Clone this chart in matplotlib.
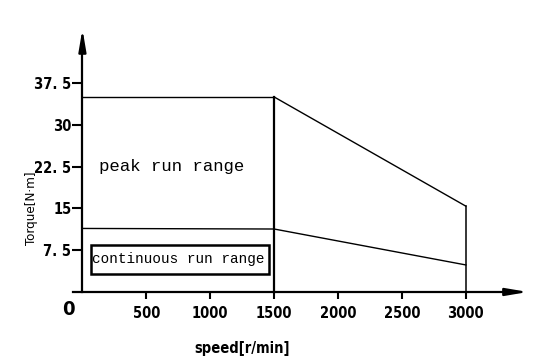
import matplotlib.pyplot as plt
from matplotlib.patches import Rectangle

# torque-speed envelope
speed = [0, 1500, 3000]
peak_torque = [35.0, 35.0, 15.4]
cont_torque = [11.4, 11.3, 4.85]

xticks = [500, 1000, 1500, 2000, 2500, 3000]
yticks = [7.5, 15, 22.5, 30, 37.5]
ytick_labels = ["7. 5", "15", "22. 5", "30", "37. 5"]

narrow = dict(fontfamily="DejaVu Sans", fontstretch="condensed")
mono = ["Liberation Mono", "DejaVu Sans Mono"]

fig = plt.figure(figsize=(5.41, 3.58), dpi=100)
ax = fig.add_axes([0, 0, 1, 1])
ax.set_xlim(-645, 3588)
ax.set_ylim(-11.85, 52.4)

for s in ["top", "right"]:
    ax.spines[s].set_visible(False)
ax.spines["left"].set_position(("data", 0))
ax.spines["bottom"].set_position(("data", 0))
ax.spines["left"].set_bounds(0, 44)
ax.spines["bottom"].set_bounds(-77, 3400)
ax.spines["left"].set_linewidth(1.6)
ax.spines["bottom"].set_linewidth(1.6)

ax.annotate("", xy=(0, 47.2), xytext=(0, 43),
            arrowprops=dict(arrowstyle="-|>,head_length=1.3,head_width=0.22",
                            lw=1.6, color="black", shrinkA=0, shrinkB=0))
ax.annotate("", xy=(3486, 0), xytext=(3380, 0),
            arrowprops=dict(arrowstyle="-|>,head_length=1.3,head_width=0.22",
                            lw=1.6, color="black", shrinkA=0, shrinkB=0))

ax.set_xticks(xticks)
ax.set_xticklabels([str(v) for v in xticks], fontweight="bold", fontsize=10.5,
                   **narrow)
ax.set_yticks(yticks)
ax.set_yticklabels(ytick_labels, fontweight="bold", fontsize=10.5, **narrow)
ax.tick_params(axis="x", direction="out", length=5, width=1.5, pad=5)
ax.tick_params(axis="y", direction="out", length=7, width=1.5, pad=1)

ax.text(-113, -3.2, "0", fontweight="bold", fontsize=14.5,
        ha="center", va="center", **narrow)

# peak envelope
ax.plot(speed[:2], peak_torque[:2], color="black", lw=1.0)
ax.plot(speed[1:], peak_torque[1:], color="black", lw=1.0)
ax.plot([speed[1], speed[1]], [0, peak_torque[1]], color="black", lw=1.6)
ax.plot([speed[2], speed[2]], [0, peak_torque[2]], color="black", lw=1.1)
# continuous envelope
ax.plot(speed, cont_torque, color="black", lw=1.0)

ax.text(700, 22.5, "peak run range", fontfamily=mono, fontsize=12.5,
        ha="center", va="center")
ax.add_patch(Rectangle((65, 3.2), 1395, 5.3, fill=False, lw=1.8,
                       edgecolor="black"))
ax.text(750, 5.9, "continuous run range", fontfamily=mono, fontsize=10.4,
        ha="center", va="center")

ax.text(-395, 15, "Torque[N·m]", fontsize=9.5, rotation=90,
        ha="center", va="center", **narrow)
ax.text(1250, -10.1, "speed[r/min]", fontweight="bold", fontsize=10.5,
        ha="center", va="center", **narrow)

fig.savefig("out.png", dpi=100)
